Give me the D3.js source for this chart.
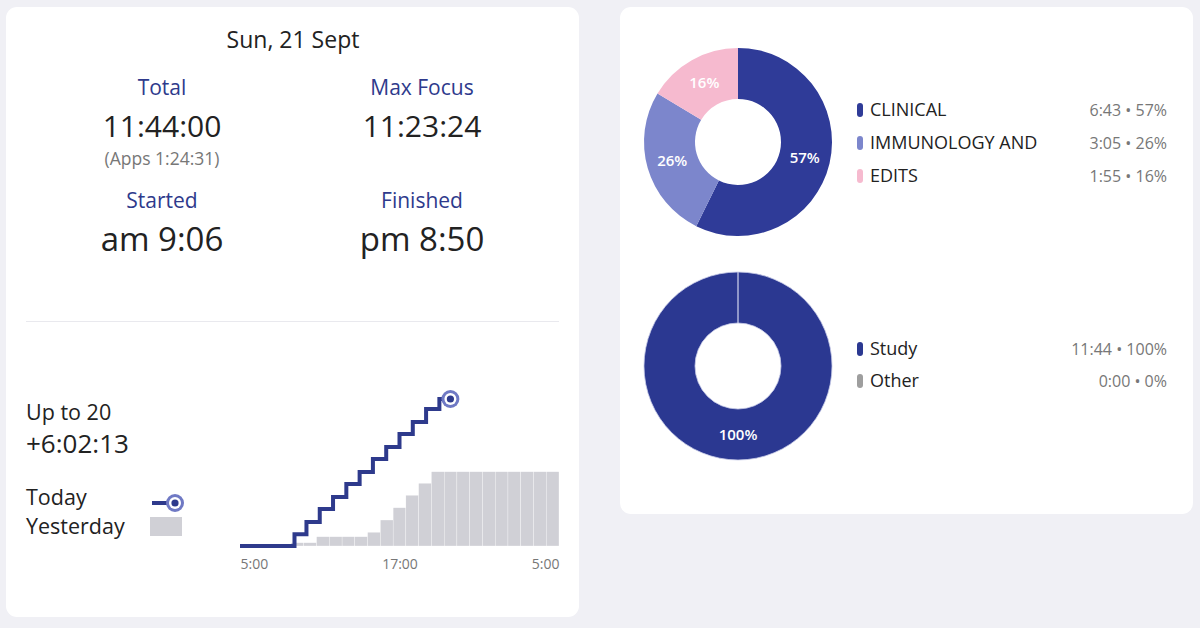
<!DOCTYPE html>
<html>
<head>
<meta charset="utf-8">
<script src="https://cdn.jsdelivr.net/npm/d3@7"></script>
<style>
  body { margin: 0; background: #f0f0f5; }
  svg { display: block; font-family: "Open Sans", sans-serif; }
</style>
</head>
<body>
<div id="display"></div>
<script>
// summary stats (left card, top)
const dateLabel = "Sun, 21 Sept";
const statTitles = ["Total", "Max Focus", "Started", "Finished"];
const statValues = ["11:44:00", "11:23:24", "am 9:06", "pm 8:50"];
const appsNote = "(Apps 1:24:31)";

// cumulative hours today (step line) - time of day in hours
const todayTimes = [5, 9.1, 10, 11, 12, 13, 14, 15, 16, 17, 18, 19, 20, 20.83];
const todayCum = [0, 0.94, 1.92, 2.96, 3.92, 4.96, 5.92, 6.96, 7.92, 8.96, 9.92, 10.96, 11.76, 11.76];

// cumulative hours yesterday, one bar per hour 5:00 .. 5:00
const yesterdayHours = d3.range(5, 30);
const yesterdayCum = [0, 0, 0, 0, 0.26, 0.26, 0.74, 0.74, 0.74, 0.74, 1.1, 2.08, 3.06, 4.06, 5.02,
  5.94, 5.94, 5.94, 5.94, 5.94, 5.94, 5.94, 5.94, 5.94, 5.94];
const tickHours = [5, 17, 29];

// donut 1 - categories
const catNames = ["CLINICAL", "IMMUNOLOGY AND", "EDITS"];
const catMinutes = [403, 185, 115];
const catTimes = ["6:43", "3:05", "1:55"];
const catPct = [57, 26, 16];
const catColors = ["#2f3b98", "#7c86cc", "#f6bacf"];

// donut 2 - types
const typeNames = ["Study", "Other"];
const typeMinutes = [704, 0];
const typeTimes = ["11:44", "0:00"];
const typePct = [100, 0];
const typeColors = ["#2b3891", "#9e9e9e"];

const navy = "#2e3a8c";
const width = 1200, height = 628;

const svg = d3.select("#display").append("svg")
  .attr("width", width)
  .attr("height", height);

// cards
svg.append("rect").attr("x", 6).attr("y", 7).attr("width", 573).attr("height", 610)
  .attr("rx", 11).attr("fill", "#fff");
svg.append("rect").attr("x", 620).attr("y", 7).attr("width", 573).attr("height", 507)
  .attr("rx", 11).attr("fill", "#fff");

// ---- top stats
svg.append("text").attr("x", 293).attr("y", 40).attr("dy", "0.35em")
  .attr("text-anchor", "middle").style("font-size", "23px").attr("fill", "#222")
  .text(dateLabel);

const colX = [162, 422, 162, 422];
const rowY = [88, 88, 201, 201];
const valSize = ["30px", "30px", "33px", "33px"];
statTitles.forEach((t, i) => {
  svg.append("text").attr("x", colX[i]).attr("y", rowY[i]).attr("dy", "0.35em")
    .attr("text-anchor", "middle").style("font-size", "21px").attr("fill", navy)
    .text(t);
  svg.append("text").attr("x", colX[i]).attr("y", rowY[i] + 38).attr("dy", "0.35em")
    .attr("text-anchor", "middle").style("font-size", valSize[i]).attr("fill", "#222")
    .text(statValues[i]);
});
svg.append("text").attr("x", 162).attr("y", 159).attr("dy", "0.35em")
  .attr("text-anchor", "middle").style("font-size", "17.5px").attr("fill", "#777")
  .text(appsNote);

svg.append("line").attr("x1", 26).attr("x2", 559).attr("y1", 321.5).attr("y2", 321.5)
  .attr("stroke", "#e9e9ee").attr("stroke-width", 1);

// ---- comparison block
svg.append("text").attr("x", 26).attr("y", 412).attr("dy", "0.35em")
  .style("font-size", "21.5px").attr("fill", "#222").text("Up to 20");
svg.append("text").attr("x", 26).attr("y", 444).attr("dy", "0.35em")
  .style("font-size", "26px").attr("fill", "#222").text("+6:02:13");
svg.append("text").attr("x", 26).attr("y", 497).attr("dy", "0.35em")
  .style("font-size", "21.5px").attr("fill", "#222").text("Today");
svg.append("text").attr("x", 26).attr("y", 526).attr("dy", "0.35em")
  .style("font-size", "21.5px").attr("fill", "#222").text("Yesterday");

function marker(g, cx, cy) {
  g.append("circle").attr("cx", cx).attr("cy", cy).attr("r", 9).attr("fill", "#6f79c4");
  g.append("circle").attr("cx", cx).attr("cy", cy).attr("r", 6).attr("fill", "#fff");
  g.append("circle").attr("cx", cx).attr("cy", cy).attr("r", 3.6).attr("fill", navy);
}
svg.append("line").attr("x1", 152).attr("x2", 172).attr("y1", 503).attr("y2", 503)
  .attr("stroke", navy).attr("stroke-width", 4);
marker(svg, 175, 503);
svg.append("rect").attr("x", 150).attr("y", 517).attr("width", 32).attr("height", 19)
  .attr("fill", "#d0d0d6");

// scales
const x = d3.scaleLinear().domain([5, 29]).range([240, 559]);
const xb = d3.scaleBand().domain(yesterdayHours).range([240, 559]).padding(0);
const y = d3.scaleLinear().domain([0, 12]).range([546, 396]);

svg.append("g")
  .selectAll("rect")
  .data(yesterdayCum)
  .join("rect")
    .attr("x", (d, i) => xb(yesterdayHours[i]))
    .attr("y", d => y(d))
    .attr("width", xb.bandwidth())
    .attr("height", d => y(0) - y(d))
    .attr("fill", "#d0d0d6")
    .attr("stroke", "#fff")
    .attr("stroke-width", 0.3);

const line = d3.line()
  .x((d, i) => x(todayTimes[i]))
  .y(d => y(d))
  .curve(d3.curveStepAfter);

svg.append("path")
  .datum(todayCum)
  .attr("d", line)
  .attr("fill", "none")
  .attr("stroke", navy)
  .attr("stroke-width", 4);

marker(svg, x(todayTimes[todayTimes.length - 1]), y(todayCum[todayCum.length - 1]));

const fmtHour = h => (h % 24) + ":00";
const xAxis = svg.append("g")
  .attr("transform", "translate(0,556)")
  .call(d3.axisBottom(x).tickValues(tickHours).tickFormat(fmtHour).tickSize(0));
xAxis.select(".domain").remove();
xAxis.selectAll("text")
  .style("font-size", "14px")
  .style("font-family", "Open Sans, sans-serif")
  .attr("fill", "#777")
  .attr("text-anchor", (d, i) => i == 0 ? "start" : (i == tickHours.length - 1 ? "end" : "middle"));

// ---- donuts
function donut(cx, cy, values, colors, labels, seam) {
  const pie = d3.pie().sort(null)(values);
  const arc = d3.arc().innerRadius(43).outerRadius(94);
  const g = svg.append("g").attr("transform", `translate(${cx},${cy})`);
  g.selectAll("path")
    .data(pie)
    .join("path")
      .attr("d", arc)
      .attr("fill", (d, i) => colors[i])
      .attr("stroke", seam ? "#c9cde8" : "none")
      .attr("stroke-width", 0.8);
  const mid = d3.arc().innerRadius(68.5).outerRadius(68.5);
  g.selectAll("text")
    .data(pie.filter(d => d.value > 0))
    .join("text")
      .attr("transform", d => `translate(${mid.centroid(d)})`)
      .attr("dy", "0.35em")
      .attr("text-anchor", "middle")
      .style("font-size", "15px")
      .style("font-weight", 600)
      .attr("fill", "#fff")
      .text(d => labels[d.index] + "%");
}
donut(738, 142, catMinutes, catColors, catPct, false);
donut(738, 366, typeMinutes, typeColors, typePct, true);

function legend(rows, names, colors, times, pcts) {
  names.forEach((n, i) => {
    svg.append("rect").attr("x", 857).attr("y", rows[i] - 7).attr("width", 6).attr("height", 14)
      .attr("rx", 3).attr("fill", colors[i]);
    svg.append("text").attr("x", 870).attr("y", rows[i]).attr("dy", "0.35em")
      .style("font-size", "18px").attr("fill", "#222").text(n);
    svg.append("text").attr("x", 1167).attr("y", rows[i]).attr("dy", "0.35em")
      .attr("text-anchor", "end").style("font-size", "16px").attr("fill", "#777")
      .text(times[i] + " \u2022 " + pcts[i] + "%");
  });
}
legend([110, 143, 176], catNames, catColors, catTimes, catPct);
legend([349, 381], typeNames, typeColors, typeTimes, typePct);
</script>
</body>
</html>
